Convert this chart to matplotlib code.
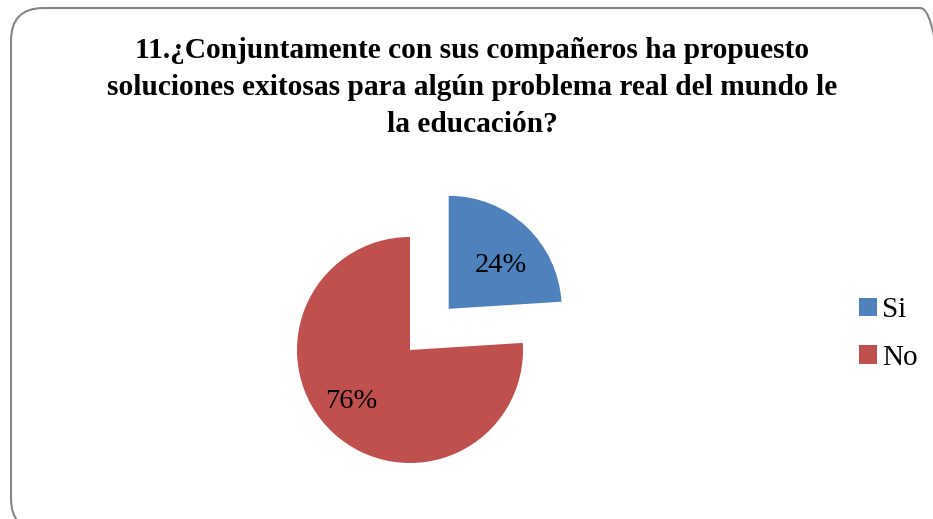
import matplotlib.pyplot as plt
from matplotlib.patches import FancyBboxPatch

# Datos
categorias = ['Si', 'No']
valores = [24, 76]
colores = ['#4F81BD', '#C0504D']
titulo = ('11.¿Conjuntamente con sus compañeros ha propuesto\n'
          'soluciones exitosas para algún problema real del mundo le\n'
          'la educación?')

plt.rcParams['font.family'] = ['Liberation Serif', 'DejaVu Serif']

fig = plt.figure(figsize=(9.33, 5.19), dpi=100)

# Marco redondeado (se sale por la derecha y abajo)
W, H = 933, 519
marco = FancyBboxPatch((11 / W, -12 / H), 942 / W, 523 / H,
                       boxstyle='round,pad=0,rounding_size=0.035',
                       transform=fig.transFigure, fill=False,
                       edgecolor='#868686', linewidth=1.5,
                       mutation_aspect=W / H)
fig.patches.append(marco)

fig.text(0.506, 0.928, titulo, ha='center', va='top', fontsize=21.2,
         fontweight='bold', linespacing=1.46)

# Pie
r_px = 113
cx, cy = 410, 519 - 350
ax = fig.add_axes([(cx - 2 * r_px) / W, (cy - 2 * r_px) / H,
                   4 * r_px / W, 4 * r_px / H])
wedges, texts, autotexts = ax.pie(valores, colors=colores, explode=[0.25, 0],
                                  startangle=90, counterclock=False,
                                  autopct='%1.0f%%', pctdistance=0.62,
                                  radius=0.5, center=(0, 0),
                                  wedgeprops=dict(linewidth=0))
for t in autotexts:
    t.set_fontsize(20.5)
    t.set_color('black')
# ajustar etiquetas
autotexts[0].set_position((0.40, 0.373))
autotexts[1].set_position((-0.258, -0.227))
ax.set_xlim(-1, 1)
ax.set_ylim(-1, 1)
ax.set_aspect('equal')
ax.axis('off')

leg = fig.legend(wedges, categorias, loc='center left',
                 bbox_to_anchor=(859 / W, 1 - 334 / H), frameon=False,
                 fontsize=21, handlelength=0.6, handleheight=0.6,
                 handletextpad=0.2, labelspacing=0.75,
                 borderpad=0, borderaxespad=0)

plt.savefig('out.png', dpi=100)
